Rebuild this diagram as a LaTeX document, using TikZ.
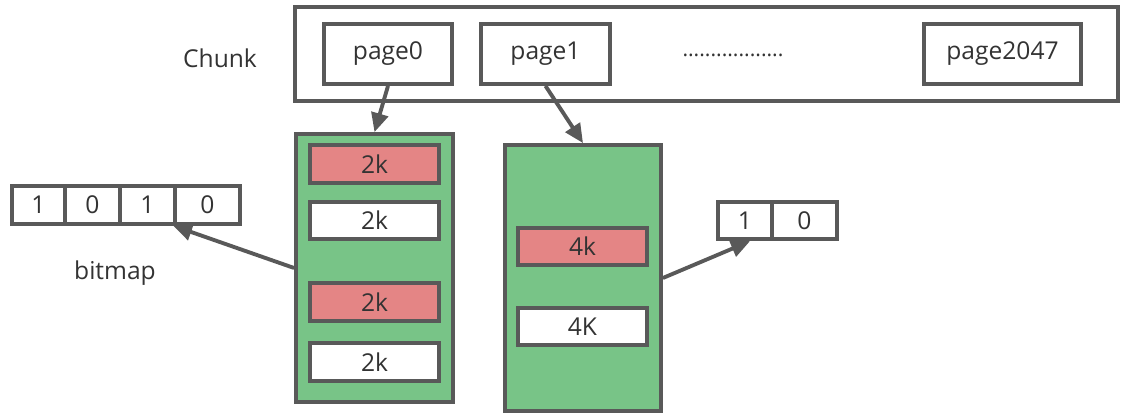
\documentclass[tikz,border=0pt]{standalone}
\usepackage{fontspec}
\setmainfont{Open Sans}
\usetikzlibrary{arrows.meta, positioning, calc}
\definecolor{linegray}{HTML}{595959}
\definecolor{txtgray}{HTML}{333333}
\definecolor{pagegreen}{HTML}{78C487}
\definecolor{usedred}{HTML}{E48585}

\begin{document}
\begin{tikzpicture}[x=0.02cm, y=-0.02cm,
  every node/.style={font=\fontsize{14pt}{17pt}\selectfont, text=txtgray},
  box/.style={draw=linegray, line width=2.2pt, fill=white, inner sep=0pt},
  slot/.style={box, minimum width=2.58cm, minimum height=0.75cm},
  used/.style={slot, fill=usedred},
  bit/.style={box, minimum height=0.75cm},
  link/.style={draw=linegray, line width=2.2pt, -{Triangle[length=0.38cm, width=0.34cm]}}]
\useasboundingbox (0,0) rectangle (1136,418);

% chunk with its pages
\node[box, minimum width=16.46cm, minimum height=1.88cm] (chunk) at (706.5,54) {};
\node (chunklbl) at (220,58) {Chunk};
\node[box, minimum width=2.56cm, minimum height=1.2cm] (p0) at (388,54) {page0};
\node[box, minimum width=2.58cm, minimum height=1.2cm] (p1) at (545.5,54) {page1};
\node (dots) at (733,55) {\fontsize{12pt}{14pt}\selectfont ..................};
\node[box, minimum width=3.14cm, minimum height=1.2cm] (p2047) at (1002.5,54) {page2047};

% page0 split in 2k parts
\node[box, fill=pagegreen, minimum width=3.14cm, minimum height=5.36cm] (lg) at (374.5,268) {};
\node[used] (s1) at (374.5,164) {2k};
\node[slot] (s2) at (374.5,220.5) {2k};
\node[used] (s3) at (374.5,302) {2k};
\node[slot] (s4) at (374.5,362) {2k};

% page1 split in 4k parts
\node[box, fill=pagegreen, minimum width=3.12cm, minimum height=5.32cm] (rg) at (583,278) {};
\node[used] (t1) at (582.5,246.5) {4k};
\node[slot] (t2) at (582.5,326.5) {4K};

% bitmaps
\node[bit, minimum width=1.06cm] (a1) at (38.5,205) {1};
\node[bit, minimum width=1.1cm] (a2) at (92.5,205) {0};
\node[bit, minimum width=1.1cm] (a3) at (147.5,205) {1};
\node[bit, minimum width=1.3cm] (a4) at (207.5,205) {0};
\node (bmlbl) at (115,273) {bitmap};
\node[bit, minimum width=1.08cm] (b1) at (745,220.5) {1};
\node[bit, minimum width=1.3cm] (b2) at (804.5,220.5) {0};

% links
\draw[link] (p0.south) -- (lg.north);
\draw[link] (p1.south) -- (rg.north);
\draw[link] (lg.west) -- (a4.south west);
\draw[link] (rg.east) -- ([xshift=0.1cm]b1.south);
\end{tikzpicture}
\end{document}
